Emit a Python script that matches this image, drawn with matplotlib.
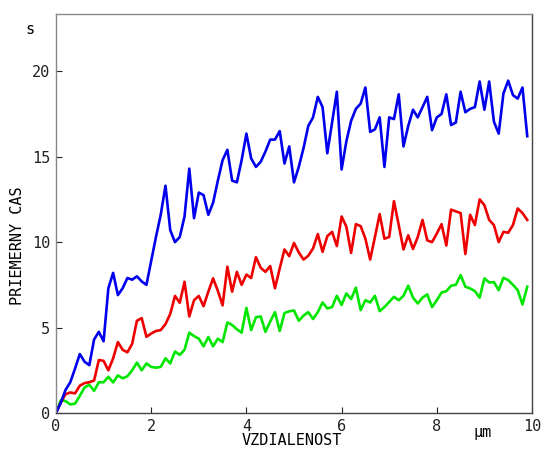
import numpy as np
import matplotlib
matplotlib.use("Agg")
import matplotlib.pyplot as plt

x = [round(0.1 * i, 1) for i in range(100)]

blue = [0.0, 0.6, 1.35, 1.8, 2.6, 3.45, 3.0, 2.8, 4.3, 4.75,
        4.2, 7.3, 8.2, 6.9, 7.3, 7.9, 7.8, 8.0, 7.7, 7.5,
        8.9, 10.3, 11.6, 13.3, 10.7, 10.0, 10.3, 11.5, 14.3, 11.4,
        12.9, 12.75, 11.6, 12.3, 13.6, 14.8, 15.4, 13.6, 13.5, 14.8,
        16.35, 14.9, 14.4, 14.7, 15.3, 16.0, 16.0, 16.5, 14.6, 15.6,
        13.5, 14.4, 15.5, 16.8, 17.3, 18.5, 17.9, 15.2, 17.0, 18.8,
        14.25, 15.9, 17.1, 17.8, 18.1, 19.05, 16.45, 16.6, 17.3, 14.4,
        17.3, 17.2, 18.65, 15.6, 16.8, 17.75, 17.3, 17.9, 18.5, 16.55,
        17.3, 17.5, 18.65, 16.85, 17.0, 18.8, 17.6, 17.8, 17.9, 19.4,
        17.75, 19.4, 17.05, 16.35, 18.7, 19.45, 18.6, 18.4, 19.05, 16.2]

red = [0.0, 0.6, 1.1, 1.2, 1.15, 1.6, 1.75, 1.8, 1.9, 3.1,
       3.05, 2.5, 3.2, 4.15, 3.7, 3.55, 4.05, 5.4, 5.55, 4.46,
       4.65, 4.8, 4.85, 5.2, 5.8, 6.85, 6.45, 7.68, 5.65, 6.6,
       6.85, 6.25, 7.1, 7.88, 7.15, 6.3, 8.56, 7.1, 8.26, 7.5,
       8.1, 7.9, 9.12, 8.5, 8.26, 8.6, 7.3, 8.46, 9.57, 9.18,
       9.95, 9.4, 8.98, 9.2, 9.63, 10.47, 9.43, 10.35, 10.6, 9.77,
       11.5, 10.9, 9.37, 11.05, 10.94, 10.2, 8.98, 10.3, 11.64, 10.2,
       10.3, 12.4, 11.0, 9.57, 10.4, 9.6, 10.3, 11.3, 10.1, 10.0,
       10.5, 11.05, 9.8, 11.9, 11.8, 11.7, 9.3, 11.6, 11.0, 12.5,
       12.16, 11.3, 11.0, 10.0, 10.6, 10.55, 11.0, 11.97, 11.7, 11.3]

green = [0.0, 0.75, 0.7, 0.5, 0.55, 1.0, 1.5, 1.65, 1.3, 1.8,
         1.8, 2.12, 1.79, 2.2, 2.03, 2.15, 2.5, 2.95, 2.5, 2.9,
         2.7, 2.65, 2.7, 3.2, 2.9, 3.6, 3.4, 3.7, 4.7, 4.5,
         4.35, 3.9, 4.45, 3.9, 4.35, 4.15, 5.3, 5.15, 4.9, 4.7,
         6.15, 4.85, 5.6, 5.65, 4.75, 5.35, 5.9, 4.8, 5.85, 5.95,
         6.0, 5.4, 5.7, 5.9, 5.5, 5.9, 6.47, 6.12, 6.2, 6.86,
         6.32, 7.0, 6.67, 7.33, 6.02, 6.6, 6.47, 6.86, 5.96, 6.2,
         6.5, 6.8, 6.6, 6.86, 7.45, 6.75, 6.41, 6.75, 6.94, 6.2,
         6.6, 7.05, 7.13, 7.45, 7.5, 8.07, 7.39, 7.29, 7.13, 6.75,
         7.88, 7.64, 7.66, 7.19, 7.91, 7.78, 7.5, 7.19, 6.35, 7.39]

xticks = [0, 2, 4, 6, 8, 10]
yticks = [0, 5, 10, 15, 20]

plt.rcParams['font.family'] = ['DejaVu Sans Mono']

fig = plt.figure(figsize=(5.42, 4.55), dpi=100)
ax = fig.add_axes([56/542, 42/455, 476/542, 399/455])

ax.plot(x, green, color='#00e600', lw=1.9)
ax.plot(x, red, color='#ee0000', lw=1.9)
ax.plot(x, blue, color='#0000ee', lw=1.9)

ax.set_xlim(0, 10)
ax.set_ylim(0, 23.35)
ax.set_xticks(xticks)
ax.set_yticks(yticks)
ax.set_xticklabels([str(t) for t in xticks], fontsize=11)
ax.set_yticklabels([str(t) for t in yticks], fontsize=11)
ax.tick_params(direction='in', length=4, width=0.8, pad=4, colors='#222222')

for s in ['top', 'left']:
    ax.spines[s].set_color('#888888')
for s in ['bottom', 'right']:
    ax.spines[s].set_color('#444444')
for s in ax.spines.values():
    s.set_linewidth(1.0)

ax.set_xlabel('VZDIALENOST', fontsize=11, va='center')
ax.xaxis.set_label_coords(0.496, -0.068)
ax.set_ylabel('PRIEMERNY CAS', fontsize=11, va='center')
ax.yaxis.set_label_coords(-0.08, 0.42)

fig.text(30/542, 1 - 30/455, 's', fontsize=11, ha='center', va='center')
fig.text(483/542, 1 - 433/455, 'μm', fontsize=11, ha='center', va='center')

fig.savefig('out.png', dpi=100)
